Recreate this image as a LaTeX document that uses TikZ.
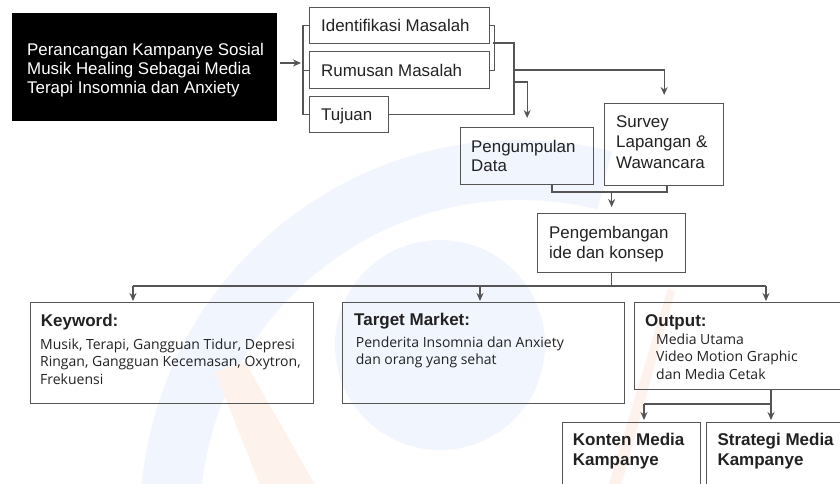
\documentclass[tikz,border=0pt]{standalone}
\usepackage{fontspec}
\setmainfont{Liberation Sans}
\newfontfamily\osfamily{Open Sans}
\usetikzlibrary{arrows.meta,calc}
\definecolor{linec}{HTML}{555555}
\definecolor{txtc}{HTML}{222222}
\definecolor{wmblue}{HTML}{F1F6FE}
\definecolor{wmorange}{HTML}{FEF2EC}
\newcommand\mytopfont{\fontsize{16.9}{19}\selectfont}
\newcommand\mybodyfont{\osfamily\fontsize{14}{17.5}\selectfont}
\newcommand\myheadfont{\bfseries\fontsize{17}{20}\selectfont}
\begin{document}
\begin{tikzpicture}[x=1pt,y=-1pt,
  conn/.style={draw=linec,line width=1.2pt},
  arr/.style={conn,-{Stealth[length=8pt,width=7pt]}},
  box/.style={draw=linec,line width=1.3pt,inner sep=0pt,anchor=north west},
  lbl/.style={anchor=base west,inner sep=0pt,align=left,text=txtc}]
\useasboundingbox (0,0) rectangle (840,483);
\clip (0,0) rectangle (840,483);
\fill[white] (0,0) rectangle (840,483);
% watermark
\begin{scope}[y=1pt]
\draw[wmblue,line width=60pt] (520,-520) ++(76:350) arc[start angle=76,end angle=200,radius=350];
\fill[wmblue] (440,-345) circle[radius=105];
\fill[wmorange] (215,-372) -- (245,-362) -- (318,-490) -- (262,-490) -- cycle;
\fill[wmorange] (668,-288) -- (675,-292) -- (620,-490) -- (607,-490) -- cycle;
\end{scope}
% boxes
\node[box,fill=black,draw=black,minimum width=264pt,minimum height=107pt] (title) at (12,13) {};
\node[box,minimum width=180pt,minimum height=36pt] (ident) at (309,7) {};
\node[box,minimum width=180pt,minimum height=37pt] (rumusan) at (309,51) {};
\node[box,minimum width=79pt,minimum height=36pt] (tujuan) at (309,96) {};
\node[box,minimum width=133pt,minimum height=57pt] (pengumpulan) at (460,127) {};
\node[box,minimum width=119pt,minimum height=82pt] (survey) at (604,103) {};
\node[box,minimum width=148pt,minimum height=59pt] (pengembangan) at (537,213) {};
\node[box,minimum width=283pt,minimum height=101pt] (keyword) at (30,302) {};
\node[box,minimum width=282pt,minimum height=101pt] (target) at (342,302) {};
\node[box,minimum width=220pt,minimum height=87pt] (output) at (634,302) {};
\node[box,minimum width=138pt,minimum height=80pt] (konten) at (562,422) {};
\node[box,minimum width=150pt,minimum height=80pt] (strategi) at (706,422) {};
% texts (base anchor = baseline of last line)
\node[lbl,text=white,font=\mytopfont] (ttitle) at (27,93) {Perancangan Kampanye Sosial\\Musik Healing Sebagai Media\\Terapi Insomnia dan Anxiety};
\node[lbl,font=\mytopfont] (tident) at (321,31.7) {Identifikasi Masalah};
\node[lbl,font=\mytopfont] (trumusan) at (321,76) {Rumusan Masalah};
\node[lbl,font=\mytopfont] (ttujuan) at (321,120) {Tujuan};
\node[lbl,font=\mytopfont] (tpeng) at (471,171.7) {Pengumpulan\\Data};
\node[lbl,font={\fontsize{16.9}{20.5}\selectfont}] (tsurvey) at (616,168) {Survey\\Lapangan \&\\Wawancara};
\node[lbl,font={\fontsize{16.9}{20}\selectfont}] (tpengem) at (549,258) {Pengembangan\\ide dan konsep};
\node[lbl,font=\myheadfont] (hkey) at (40.7,326.7) {Keyword:};
\node[lbl,font=\mybodyfont] (bkey) at (40,384) {Musik, Terapi, Gangguan Tidur, Depresi\\Ringan, Gangguan Kecemasan, Oxytron,\\Frekuensi};
\node[lbl,font=\myheadfont] (htarget) at (354,325) {Target Market:};
\node[lbl,font=\mybodyfont] (btarget) at (355.7,364.5) {Penderita Insomnia dan Anxiety\\dan orang yang sehat};
\node[lbl,font=\myheadfont] (houtput) at (645,326.5) {Output:};
\node[lbl,font=\mybodyfont] (boutput) at (656,379) {Media Utama\\Video Motion Graphic\\dan Media Cetak};
\node[lbl,font=\myheadfont] (tkonten) at (572.7,465.7) {Konten Media\\Kampanye};
\node[lbl,font=\myheadfont] (tstrategi) at (717.3,465.7) {Strategi Media\\Kampanye};
% connector coordinates
\coordinate (lbk) at (303,63);
\coordinate (rbm) at (493,43);
\coordinate (vb) at (514,43);
\coordinate (bb1) at (552,192);
\coordinate (bb2) at (667,192);
\coordinate (d1) at (133,286);
\coordinate (d2) at (480,286);
\coordinate (d3) at (766,286);
\coordinate (o1) at (644,404);
\coordinate (o2) at (771,404);
% connectors
\draw[arr] ([xshift=3pt]title.east |- lbk) -- ([xshift=-2pt]lbk);
\draw[conn] (ident.west) -- ++(-6,0) |- (tujuan.west);
\draw[conn] (rumusan.west) -- ++(-6,0);
\draw[conn] (ident.east) -- ++(4,0) |- (rumusan.east);
\draw[conn] (rbm) -- (vb) |- (tujuan.east);
\draw[arr,shorten >=8pt] (vb |- 0,70) -| (survey.north);
\draw[arr,shorten >=9pt] (vb |- 0,82) -| (pengumpulan.north);
\draw[conn] (pengumpulan.south -| bb1) -- (bb1) -- (bb2) -- (survey.south -| bb2);
\draw[arr,shorten >=6pt] (bb1 -| pengembangan.north) -- (pengembangan.north);
\draw[conn] (pengembangan.south) -- (pengembangan.south |- d1);
\draw[conn] (d1) -- (d3);
\draw[arr,shorten >=1pt] (d1) -- (d1 |- keyword.north);
\draw[arr,shorten >=1pt] (d2) -- (d2 |- target.north);
\draw[arr,shorten >=1pt] (d3) -- (d3 |- output.north);
\draw[conn] (o2 |- output.south) -- (o2);
\draw[conn] (o1) -- (o2);
\draw[arr,shorten >=2pt] (o1) -- (o1 |- konten.north);
\draw[arr,shorten >=2pt] (o2) -- (o2 |- strategi.north);
\end{tikzpicture}
\end{document}
